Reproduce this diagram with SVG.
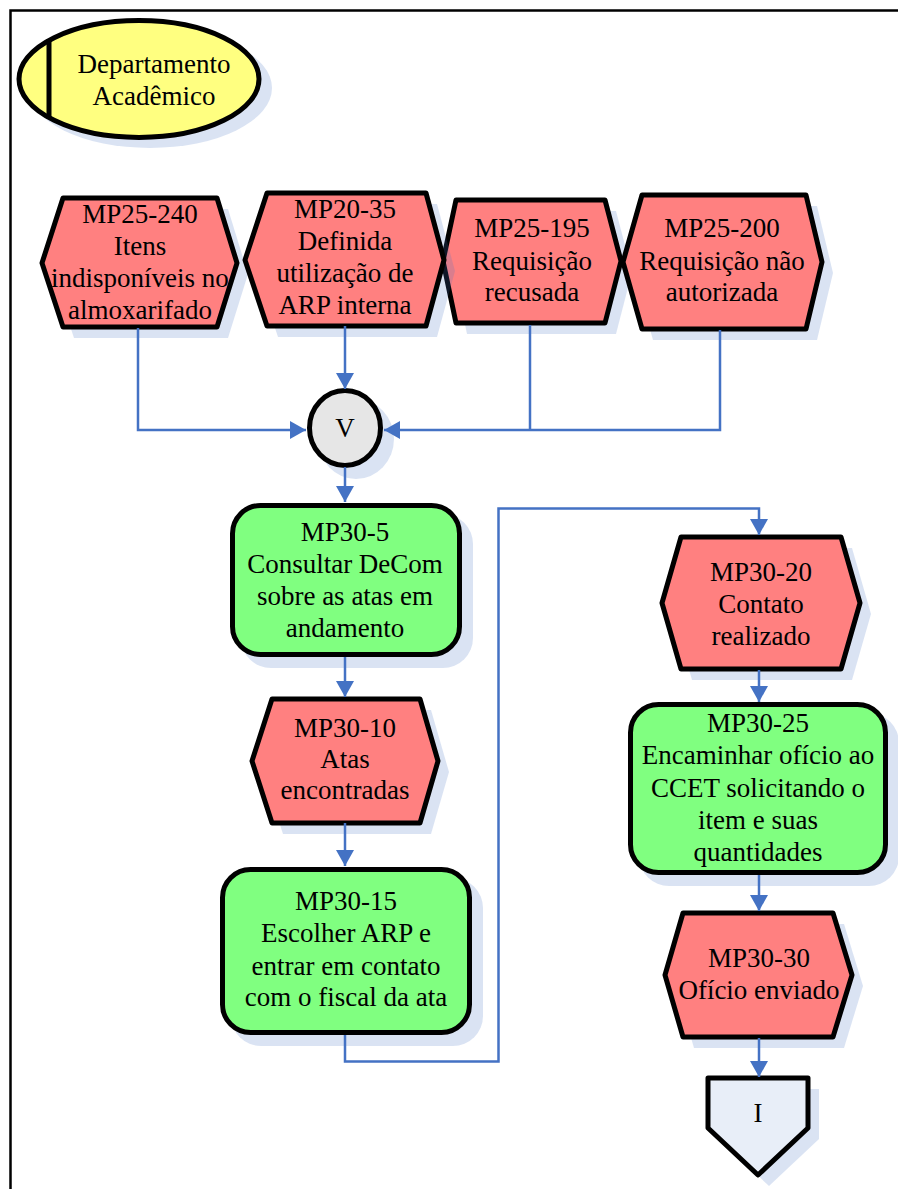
<svg xmlns="http://www.w3.org/2000/svg" width="898" height="1189" viewBox="0 0 898 1189">
  <style>
    text { font-family: "Liberation Serif", "Times New Roman", serif; font-size: 27px; fill: #000; text-anchor: middle; }
    .shadow { fill: #4472c4; fill-opacity: 0.2; stroke: none; }
    .event { fill: #ff8080; stroke: #000; stroke-width: 5; stroke-linejoin: round; }
    .func { fill: #80ff80; stroke: #000; stroke-width: 5; }
    .unit { fill: #ffff80; stroke: #000; stroke-width: 5; }
    .op { fill: #e6e6e6; stroke: #000; stroke-width: 5; }
    .ref { fill: #e8eef8; stroke: #000; stroke-width: 5; stroke-linejoin: round; }
    .flow { fill: none; stroke: #4472c4; stroke-width: 2.5; marker-end: url(#arrow); }
    .line { fill: none; stroke: #4472c4; stroke-width: 2.5; }
  </style>
  <defs>
    <marker id="arrow" markerUnits="userSpaceOnUse" markerWidth="16" markerHeight="18" refX="16" refY="9" orient="auto">
      <path d="M0,0 L16,9 L0,18 Z" fill="#4472c4"/>
    </marker>
  </defs>

  <rect width="898" height="1189" fill="#fff"/>
  <!-- page frame -->
  <path d="M898,10.5 H10.5 V1189" fill="none" stroke="#000" stroke-width="2.5"/>

  <!-- organisational unit -->
  <g id="departamento-academico">
    <ellipse class="shadow" cx="150" cy="88" rx="122" ry="60"/>
    <ellipse class="unit" cx="139" cy="79" rx="120" ry="58.5"/>
    <line x1="49" y1="39" x2="49" y2="119" stroke="#000" stroke-width="5"/>
    <text x="154" y="73">Departamento</text>
    <text x="154" y="105">Acadêmico</text>
  </g>

  <!-- start events -->
  <g id="mp25-240">
    <polygon class="shadow" points="53,274 74,209 228,209 248,274 228,338 74,338"/>
    <polygon class="event" points="42,263 63,198 217,198 237,263 217,327 63,327"/>
    <text x="140" y="223">MP25-240</text>
    <text x="140" y="255">Itens</text>
    <text x="140" y="287">indisponíveis no</text>
    <text x="140" y="319">almoxarifado</text>
  </g>
  <g id="mp25-195">
    <polygon class="shadow" points="454,272 467,211 616,211 632,272 616,334 467,334"/>
    <polygon class="event" points="443,261 456,200 605,200 621,261 605,323 456,323"/>
    <text x="532" y="237">MP25-195</text>
    <text x="532" y="270">Requisição</text>
    <text x="532" y="301">recusada</text>
  </g>
  <g id="mp20-35">
    <polygon class="shadow" points="256,271 278,204 437,204 455,271 437,337 278,337"/>
    <polygon class="event" points="245,260 267,193 426,193 444,260 426,326 267,326"/>
    <text x="345" y="218">MP20-35</text>
    <text x="345" y="250">Definida</text>
    <text x="345" y="282">utilização de</text>
    <text x="345" y="314">ARP interna</text>
  </g>
  <g id="mp25-200">
    <polygon class="shadow" points="634,273 653,206 817,206 833,273 817,340 653,340"/>
    <polygon class="event" points="623,262 642,195 806,195 822,262 806,329 642,329"/>
    <text x="722" y="237">MP25-200</text>
    <text x="722" y="270">Requisição não</text>
    <text x="722" y="301">autorizada</text>
  </g>

  <!-- OR operator -->
  <g id="or-operator">
    <ellipse class="shadow" cx="356" cy="439" rx="38" ry="40"/>
    <ellipse class="op" cx="345" cy="428" rx="35.5" ry="37.5"/>
    <text x="345" y="437">V</text>
  </g>

  <!-- left column -->
  <g id="mp30-5">
    <rect class="shadow" x="241" y="514" width="232" height="154" rx="30"/>
    <rect class="func" x="232.5" y="505.5" width="227" height="149" rx="28"/>
    <text x="345" y="541">MP30-5</text>
    <text x="345" y="573">Consultar DeCom</text>
    <text x="345" y="605">sobre as atas em</text>
    <text x="345" y="637">andamento</text>
  </g>
  <g id="mp30-10">
    <polygon class="shadow" points="263,772 283,710 431,710 449,772 431,834 283,834"/>
    <polygon class="event" points="252,761 272,699 420,699 438,761 420,823 272,823"/>
    <text x="345" y="737">MP30-10</text>
    <text x="345" y="768">Atas</text>
    <text x="345" y="799">encontradas</text>
  </g>
  <g id="mp30-15">
    <rect class="shadow" x="231" y="878" width="252" height="168" rx="30"/>
    <rect class="func" x="222.5" y="869.5" width="247" height="163" rx="28"/>
    <text x="346" y="910">MP30-15</text>
    <text x="346" y="942">Escolher ARP e</text>
    <text x="346" y="975">entrar em contato</text>
    <text x="346" y="1006">com o fiscal da ata</text>
  </g>

  <!-- right column -->
  <g id="mp30-20">
    <polygon class="shadow" points="673,614 692,548 852,548 871,614 852,680 692,680"/>
    <polygon class="event" points="662,603 681,537 841,537 860,603 841,669 681,669"/>
    <text x="761" y="581">MP30-20</text>
    <text x="761" y="613">Contato</text>
    <text x="761" y="645">realizado</text>
  </g>
  <g id="mp30-25">
    <rect class="shadow" x="639" y="713" width="260" height="173" rx="30"/>
    <rect class="func" x="630.5" y="704.5" width="255" height="168" rx="28"/>
    <text x="758" y="732">MP30-25</text>
    <text x="758" y="764">Encaminhar ofício ao</text>
    <text x="758" y="797">CCET solicitando o</text>
    <text x="758" y="829">item e suas</text>
    <text x="758" y="861">quantidades</text>
  </g>
  <g id="mp30-30">
    <polygon class="shadow" points="676,986 694,924 844,924 863,986 844,1048 694,1048"/>
    <polygon class="event" points="665,975 683,913 833,913 852,975 833,1037 683,1037"/>
    <text x="759" y="967">MP30-30</text>
    <text x="759" y="999">Ofício enviado</text>
  </g>
  <g id="interface-i">
    <polygon class="shadow" points="719,1089 819,1089 819,1139 769,1186 719,1139"/>
    <polygon class="ref" points="708,1078 808,1078 808,1128 758,1175 708,1128"/>
    <text x="758" y="1122">I</text>
  </g>

  <!-- connectors -->
  <g id="connectors">
    <path class="flow" d="M138,328 V430 H306"/>
    <path class="flow" d="M345,326 V389"/>
    <path class="line" d="M530,325 V430"/>
    <path class="flow" d="M720,330 V430 H384"/>
    <path class="flow" d="M345,467 V502"/>
    <path class="flow" d="M345,657 V697"/>
    <path class="flow" d="M345,823 V866"/>
    <path class="flow" d="M345,1035 V1061.5 H498.5 V508.5 H759 V535"/>
    <path class="flow" d="M759,670 V702"/>
    <path class="flow" d="M759,875 V911"/>
    <path class="flow" d="M759,1038 V1077"/>
  </g>
</svg>
